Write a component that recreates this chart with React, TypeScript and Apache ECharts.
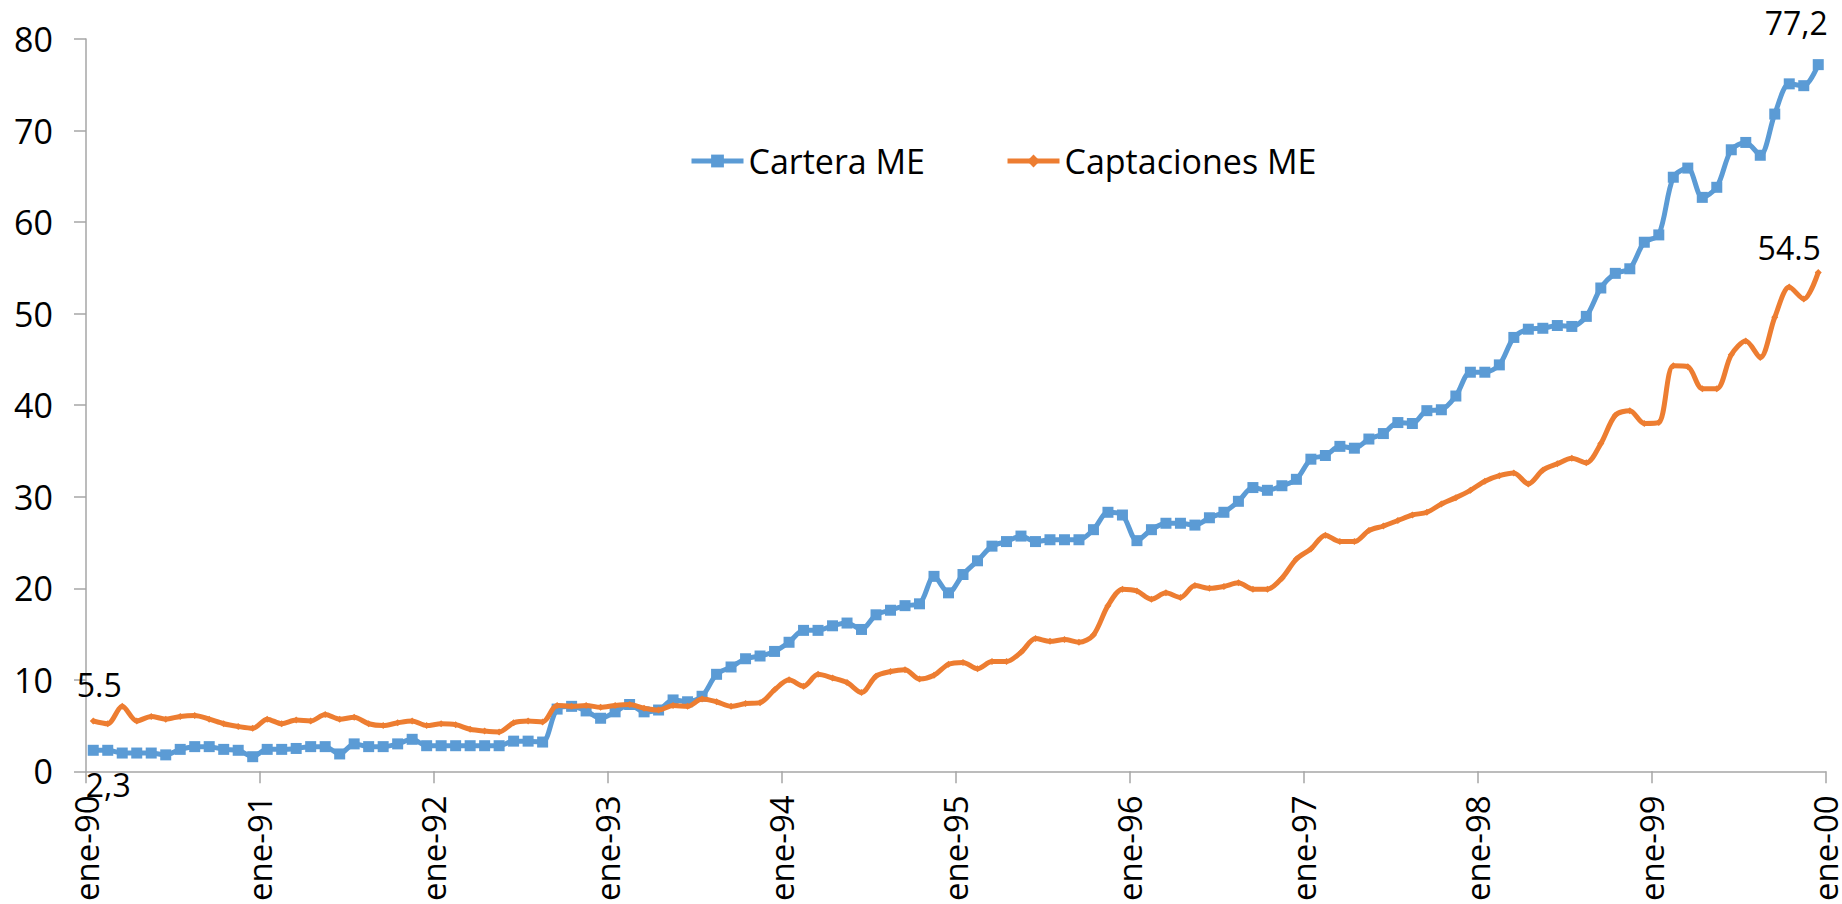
import React, { useEffect, useRef } from "react";
import * as echarts from "echarts";

// Tick labels on the x axis (one every 12 months, ticks between monthly points)
const tickLabels = [
  "ene-90", "ene-91", "ene-92", "ene-93", "ene-94", "ene-95",
  "ene-96", "ene-97", "ene-98", "ene-99", "ene-00",
];

// Monthly values, Jan 1990 – Dec 1999
const carteraME = [
  2.3, 2.3, 2.0, 2.0, 2.0, 1.8, 2.4, 2.7, 2.7, 2.4, 2.3, 1.6,
  2.4, 2.4, 2.5, 2.7, 2.7, 1.9, 3.0, 2.7, 2.7, 3.0, 3.5, 2.8,
  2.8, 2.8, 2.8, 2.8, 2.8, 3.3, 3.3, 3.2, 6.8, 7.1, 6.6, 5.8,
  6.5, 7.3, 6.5, 6.7, 7.8, 7.6, 8.2, 10.6, 11.4, 12.3, 12.6, 13.1,
  14.1, 15.4, 15.4, 15.9, 16.2, 15.5, 17.1, 17.6, 18.1, 18.3, 21.3, 19.5,
  21.5, 23.0, 24.6, 25.1, 25.7, 25.1, 25.3, 25.3, 25.3, 26.4, 28.3, 28.0,
  25.2, 26.4, 27.1, 27.1, 26.9, 27.7, 28.3, 29.5, 31.0, 30.7, 31.2, 31.9,
  34.1, 34.5, 35.5, 35.3, 36.3, 36.9, 38.1, 38.0, 39.4, 39.5, 41.0, 43.6,
  43.6, 44.4, 47.4, 48.3, 48.4, 48.7, 48.6, 49.7, 52.8, 54.4, 54.9, 57.8,
  58.6, 64.9, 65.9, 62.7, 63.8, 67.9, 68.7, 67.3, 71.8, 75.1, 74.9, 77.2,
];

const captacionesME = [
  5.5, 5.2, 7.1, 5.5, 6.0, 5.7, 6.0, 6.1, 5.7, 5.2, 4.9, 4.7,
  5.7, 5.2, 5.6, 5.5, 6.2, 5.7, 5.9, 5.2, 5.0, 5.3, 5.5, 5.0,
  5.2, 5.1, 4.6, 4.4, 4.3, 5.3, 5.5, 5.4, 7.2, 7.1, 7.2, 7.0,
  7.2, 7.3, 6.9, 6.7, 7.2, 7.1, 7.9, 7.6, 7.1, 7.4, 7.5, 8.9,
  10.0, 9.3, 10.6, 10.2, 9.7, 8.6, 10.4, 10.9, 11.1, 10.1, 10.5, 11.7,
  11.9, 11.2, 12.0, 12.0, 13.0, 14.5, 14.2, 14.4, 14.1, 14.9, 18.1, 19.9,
  19.7, 18.8, 19.5, 19.0, 20.3, 20.0, 20.2, 20.6, 19.9, 19.9, 21.1, 23.2,
  24.3, 25.8, 25.1, 25.1, 26.3, 26.8, 27.4, 28.0, 28.3, 29.2, 29.9, 30.7,
  31.7, 32.3, 32.6, 31.4, 32.9, 33.6, 34.2, 33.7, 35.8, 38.9, 39.4, 38.0,
  38.1, 44.3, 44.2, 41.8, 41.8, 45.5, 47.0, 45.2, 49.6, 52.9, 51.6, 54.5,
];

const FONT = "'Open Sans', sans-serif";
const BLUE = "#5B9BD5";
const ORANGE = "#ED7D31";
const AXIS = "#A6A6A6";
const FS = 34;

type LabelCfg = { offset: number[]; position: string; fmt: (v: number) => string };

function toData(vals: number[], first: LabelCfg, last: LabelCfg) {
  return vals.map((v, i) => {
    const item: any = { value: [i + 0.5, v] };
    const cfg = i === 0 ? first : i === vals.length - 1 ? last : null;
    if (cfg) {
      item.label = {
        show: true,
        position: cfg.position,
        offset: cfg.offset,
        formatter: cfg.fmt(v),
        fontFamily: FONT,
        fontSize: 32,
        color: "#000",
      };
    }
    return item;
  });
}

export default function App() {
  const ref = useRef<HTMLDivElement>(null);

  useEffect(() => {
    if (!ref.current) return;
    const chart = echarts.init(ref.current, null, { renderer: "svg" });
    const comma = (v: number) => v.toFixed(1).replace(".", ",");
    const dot = (v: number) => v.toFixed(1);

    chart.setOption({
      animation: false,
      backgroundColor: "#fff",
      grid: { left: 86, right: 12, top: 39, bottom: 131, containLabel: false },
      legend: {
        left: 684,
        top: 139,
        itemWidth: 52,
        itemHeight: 16,
        itemGap: 80,
        lineStyle: { width: 5 },
        textStyle: { fontFamily: FONT, fontSize: FS, color: "#000" },
        data: ["Cartera ME", "Captaciones ME"],
      },
      xAxis: {
        type: "value",
        min: 0,
        max: tickLabels.length * 12 - 12,
        interval: 12,
        axisLine: { show: true, lineStyle: { color: AXIS, width: 1.5 } },
        axisTick: { show: true, length: 12, lineStyle: { color: AXIS, width: 1.5 } },
        splitLine: { show: false },
        axisLabel: {
          rotate: 90,
          margin: 24,
          fontFamily: FONT,
          fontSize: 33,
          color: "#000",
          formatter: (v: number) => tickLabels[Math.round(v / 12)] ?? "",
        },
      },
      yAxis: {
        type: "value",
        min: 0,
        max: 80,
        interval: 10,
        axisLine: { show: true, lineStyle: { color: AXIS, width: 1.5 } },
        axisTick: { show: true, length: 12, lineStyle: { color: AXIS, width: 1.5 } },
        splitLine: { show: false },
        axisLabel: { margin: 33, fontFamily: FONT, fontSize: FS, color: "#000" },
      },
      series: [
        {
          name: "Cartera ME",
          type: "line",
          smooth: 0.3,
          symbol: "rect",
          symbolSize: 11,
          lineStyle: { color: BLUE, width: 5 },
          itemStyle: { color: BLUE },
          z: 2,
          data: toData(
            carteraME,
            { position: "bottom", offset: [15, 8], fmt: comma },
            { position: "top", offset: [-22, -16], fmt: comma },
          ),
        },
        {
          name: "Captaciones ME",
          type: "line",
          smooth: 0.3,
          symbol: "diamond",
          symbolSize: 7,
          lineStyle: { color: ORANGE, width: 5 },
          itemStyle: { color: ORANGE },
          z: 3,
          data: toData(
            captacionesME,
            { position: "top", offset: [6, -12], fmt: dot },
            { position: "top", offset: [-29, 0], fmt: dot },
          ),
        },
      ],
    });
    return () => chart.dispose();
  }, []);

  return (
    <div
      ref={ref}
      style={{ position: "absolute", left: 0, top: 0, width: 1842, height: 904 }}
    />
  );
}
